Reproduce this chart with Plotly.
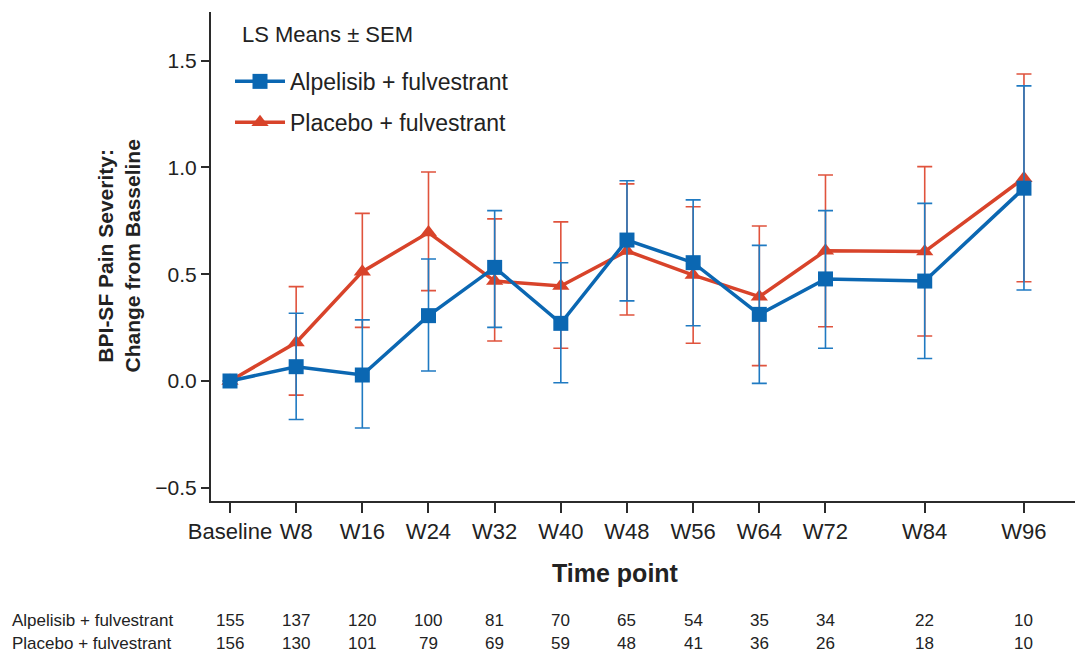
import numpy as np
import plotly.graph_objects as go

# ---------------- data ----------------
weeks = [0, 8, 16, 24, 32, 40, 48, 56, 64, 72, 84, 96]
tick_labels = ["Baseline", "W8", "W16", "W24", "W32", "W40", "W48", "W56",
               "W64", "W72", "W84", "W96"]

alp_mean = [0.0, 0.067, 0.028, 0.306, 0.532, 0.270, 0.660, 0.554, 0.312, 0.478, 0.468, 0.903]
alp_upper = [np.nan, 0.317, 0.286, 0.571, 0.798, 0.554, 0.938, 0.848, 0.635, 0.798, 0.832, 1.382]
alp_lower = [np.nan, -0.180, -0.220, 0.047, 0.251, -0.008, 0.375, 0.259, -0.011, 0.153, 0.105, 0.426]

pla_mean = [0.0, 0.180, 0.512, 0.695, 0.468, 0.445, 0.609, 0.496, 0.395, 0.610, 0.606, 0.950]
pla_upper = [np.nan, 0.442, 0.785, 0.979, 0.759, 0.745, 0.923, 0.816, 0.726, 0.965, 1.004, 1.438]
pla_lower = [np.nan, -0.066, 0.251, 0.423, 0.187, 0.153, 0.309, 0.177, 0.072, 0.254, 0.211, 0.465]

alp_n = [155, 137, 120, 100, 81, 70, 65, 54, 35, 34, 22, 10]
pla_n = [156, 130, 101, 79, 69, 59, 48, 41, 36, 26, 18, 10]

alp_name = "Alpelisib + fulvestrant"
pla_name = "Placebo + fulvestrant"

# ---------------- style ----------------
BLUE = "#0b67b2"
BLUE_ERR = "#1f7ac2"
RED = "#d8432a"
RED_ERR = "#e0533d"
AXIS = "#2b2b2b"
TXT = "#222222"
FONT = "Liberation Sans, Arial, sans-serif"

def err_plus(mean, upper):
    return [u - m for m, u in zip(mean, upper)]

def err_minus(mean, lower):
    return [m - l for m, l in zip(mean, lower)]

fig = go.Figure()

fig.add_trace(go.Scatter(
    x=weeks, y=pla_mean, name=pla_name, mode="lines+markers",
    line=dict(color=RED, width=3.5),
    marker=dict(symbol="triangle-up", size=15, color=RED),
    error_y=dict(type="data", symmetric=False,
                 array=err_plus(pla_mean, pla_upper),
                 arrayminus=err_minus(pla_mean, pla_lower),
                 color=RED_ERR, thickness=1.6, width=7.5),
    legendrank=2, legendgroup="b",
))
fig.add_trace(go.Scatter(
    x=weeks, y=alp_mean, name=alp_name, mode="lines+markers",
    line=dict(color=BLUE, width=3.5),
    marker=dict(symbol="square", size=15, color=BLUE),
    error_y=dict(type="data", symmetric=False,
                 array=err_plus(alp_mean, alp_upper),
                 arrayminus=err_minus(alp_mean, alp_lower),
                 color=BLUE_ERR, thickness=1.6, width=7.5),
    legendrank=1, legendgroup="a",
))

annotations = []
# numbers at risk
row_y = [-0.2434, -0.2904]
for row, (name, ns) in enumerate([(alp_name, alp_n), (pla_name, pla_n)]):
    annotations.append(dict(
        text=name, xref="paper", yref="paper", x=-0.2326, y=row_y[row],
        xanchor="left", yanchor="middle", showarrow=False,
        font=dict(size=17, color=TXT, family=FONT)))
    for wk, n in zip(weeks, ns):
        annotations.append(dict(
            text=str(n), xref="x", yref="paper", x=wk, y=row_y[row],
            xanchor="center", yanchor="middle", showarrow=False,
            font=dict(size=17, color=TXT, family=FONT)))

# legend heading
annotations.append(dict(
    text="LS Means ± SEM", xref="paper", yref="paper", x=0.0336, y=0.953,
    xanchor="left", yanchor="middle", showarrow=False,
    font=dict(size=22, color=TXT, family=FONT)))
# x-axis title
annotations.append(dict(
    text="<b>Time point</b>", xref="paper", yref="paper", x=0.4676, y=-0.147,
    xanchor="center", yanchor="middle", showarrow=False,
    font=dict(size=25, color=TXT, family=FONT)))
# y-axis title
annotations.append(dict(
    text="<b>BPI-SF Pain Severity:<br>Change from Basseline</b>",
    xref="paper", yref="paper", x=-0.1076, y=0.50,
    xanchor="center", yanchor="middle", showarrow=False, textangle=-90,
    font=dict(size=21, color=TXT, family=FONT)))

fig.update_layout(
    width=1075, height=655,
    margin=dict(l=211, r=0, t=12, b=154),
    paper_bgcolor="white", plot_bgcolor="white",
    font=dict(family=FONT, color=TXT),
    showlegend=True,
    legend=dict(
        x=0.022, y=0.902, xanchor="left", yanchor="top",
        font=dict(size=23, color=TXT, family=FONT),
        bgcolor="rgba(0,0,0,0)", traceorder="grouped", tracegroupgap=8,
        itemwidth=50,
    ),
    annotations=annotations,
)

fig.update_xaxes(
    range=[-2.297, 102.17], tickmode="array", tickvals=weeks, ticktext=tick_labels,
    showline=True, linecolor=AXIS, linewidth=2, showgrid=False, zeroline=False,
    ticks="outside", ticklen=10, tickwidth=1.5, tickcolor=AXIS,
    tickfont=dict(size=22, color=TXT, family=FONT),
)
fig.update_yaxes(
    range=[-0.562, 1.728], tickvals=[-0.5, 0.0, 0.5, 1.0, 1.5],
    ticktext=["\u22120.5", "0.0", "0.5", "1.0", "1.5"],
    showline=True, linecolor=AXIS, linewidth=2, showgrid=False, zeroline=False,
    ticks="outside", ticklen=8, tickwidth=1.5, tickcolor=AXIS,
    tickfont=dict(size=21, color=TXT, family=FONT),
)

fig.write_html("out.html")
